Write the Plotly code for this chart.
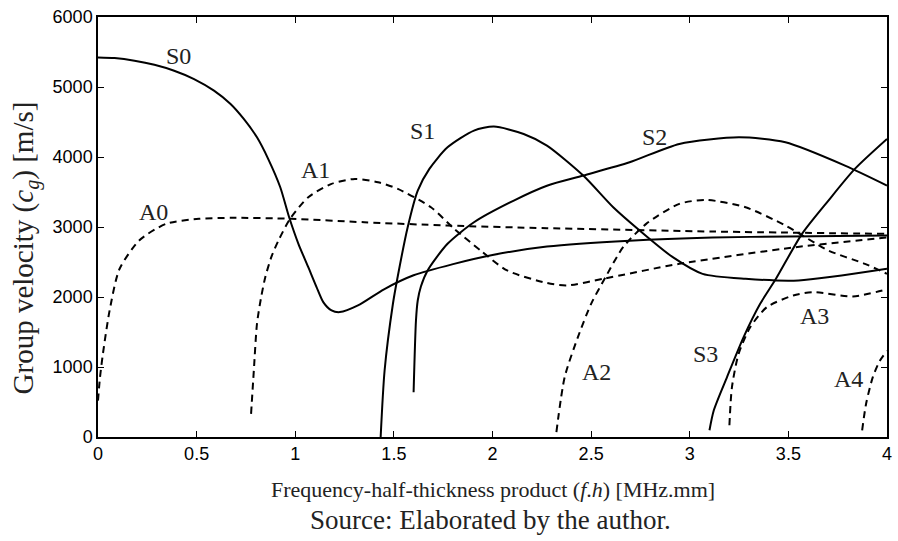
import plotly.graph_objects as go

# ---- data (fh [MHz.mm], group velocity [m/s]) ----
s0_x = [0.0, 0.084, 0.185, 0.286, 0.386, 0.487, 0.588, 0.672, 0.739, 0.806, 0.865, 0.924, 0.969, 1.016, 1.066, 1.108, 1.142, 1.184, 1.226, 1.318, 1.45, 1.6, 1.8, 2.0, 2.276, 2.695, 3.115, 3.5, 4.0]
s0_y = [5423, 5413, 5376, 5318, 5233, 5114, 4948, 4758, 4544, 4281, 3960, 3568, 3139, 2760, 2426, 2141, 1927, 1808, 1784, 1879, 2110, 2310, 2470, 2600, 2720, 2805, 2850, 2865, 2880]

a0_x = [0.0, 0.01, 0.025, 0.059, 0.109, 0.21, 0.345, 0.512, 0.68, 0.98, 1.35, 1.77, 2.276, 3.115, 4.0]
a0_y = [520, 850, 1190, 1810, 2400, 2810, 3045, 3117, 3131, 3117, 3068, 3021, 2983, 2935, 2902]

a1_x = [0.776, 0.79, 0.806, 0.826, 0.848, 0.88, 0.915, 0.974, 1.066, 1.184, 1.302, 1.42, 1.52, 1.688, 1.806, 1.94, 2.074, 2.276, 2.376, 2.561, 2.947, 3.535, 4.0]
a1_y = [330, 950, 1618, 1980, 2283, 2580, 2807, 3117, 3425, 3616, 3687, 3640, 3545, 3282, 2974, 2664, 2379, 2200, 2165, 2260, 2474, 2711, 2850]

s1_x = [1.433, 1.453, 1.495, 1.52, 1.570, 1.621, 1.680, 1.772, 1.906, 2.007, 2.158, 2.276, 2.46, 2.612, 2.746, 2.914, 3.065, 3.283, 3.552, 4.0]
s1_y = [0, 950, 1900, 2300, 2997, 3520, 3830, 4138, 4377, 4434, 4329, 4163, 3735, 3282, 2950, 2569, 2331, 2260, 2236, 2403]

s2_x = [1.6, 1.612, 1.621, 1.637, 1.671, 1.772, 1.906, 2.108, 2.276, 2.46, 2.695, 2.947, 3.249, 3.485, 3.787, 4.0]
s2_y = [640, 1665, 1950, 2150, 2379, 2760, 3068, 3378, 3590, 3735, 3924, 4187, 4281, 4210, 3877, 3592]

a2_x = [2.324, 2.366, 2.433, 2.5, 2.573, 2.662, 2.779, 2.947, 3.082, 3.283, 3.485, 3.703, 3.888, 4.0]
a2_y = [70, 856, 1427, 1903, 2283, 2711, 3045, 3330, 3387, 3282, 3021, 2664, 2474, 2331]

s3_x = [3.1, 3.122, 3.189, 3.273, 3.357, 3.437, 3.569, 3.703, 3.837, 4.0]
s3_y = [96, 381, 856, 1427, 1903, 2260, 2902, 3378, 3830, 4258]

a3_x = [3.201, 3.214, 3.248, 3.307, 3.391, 3.525, 3.626, 3.827, 4.0]
a3_y = [167, 714, 1190, 1570, 1855, 2022, 2069, 2008, 2110]

a4_x = [3.874, 3.894, 3.928, 3.962, 4.0]
a4_y = [96, 476, 856, 1080, 1230]

label_text = ["S0", "A0", "A1", "S1", "S2", "A2", "S3", "A3", "A4"]
label_x = [0.407, 0.28, 1.101, 1.643, 2.82, 2.527, 3.08, 3.63, 3.807]
label_y = [5443, 3220, 3817, 4376, 4291, 924, 1180, 1722, 824]

x_ticks = [0, 0.5, 1, 1.5, 2, 2.5, 3, 3.5, 4]
x_tick_text = ["0", "0.5", "1", "1.5", "2", "2.5", "3", "3.5", "4"]
y_ticks = [0, 1000, 2000, 3000, 4000, 5000, 6000]

SERIF = "Liberation Serif, Times New Roman, Times, serif"
SANS = "Liberation Sans, Arial, Helvetica, sans-serif"

# ---- figure ----
fig = go.Figure()
curves = [
    (s0_x, s0_y, "solid"), (a0_x, a0_y, "dash"), (a1_x, a1_y, "dash"),
    (s1_x, s1_y, "solid"), (s2_x, s2_y, "solid"), (a2_x, a2_y, "dash"),
    (s3_x, s3_y, "solid"), (a3_x, a3_y, "dash"), (a4_x, a4_y, "dash"),
]
for xs, ys, style in curves:
    fig.add_trace(go.Scatter(
        x=xs, y=ys, mode="lines",
        line=dict(color="black", width=2, shape="spline", smoothing=0.7,
                  dash="solid" if style == "solid" else "7px,5px"),
        showlegend=False, hoverinfo="skip",
    ))

for t, x, y in zip(label_text, label_x, label_y):
    fig.add_annotation(x=x, y=y, text=t, showarrow=False,
                       font=dict(family=SERIF, size=24, color="#222"))

fig.add_annotation(xref="paper", yref="paper", x=0.5, y=-0.124, yanchor="middle",
                   text="Frequency-half-thickness product (<i>f</i>.<i>h</i>) [MHz.mm]",
                   showarrow=False, font=dict(family=SERIF, size=22, color="#222"))
fig.add_annotation(xref="paper", yref="paper", x=0.497, y=-0.198, yanchor="middle",
                   text="Source: Elaborated by the author.",
                   showarrow=False, font=dict(family=SERIF, size=27, color="#222"))
fig.add_annotation(xref="paper", yref="paper", x=-0.092, y=0.45, xanchor="center",
                   yanchor="middle", textangle=-90,
                   text="Group velocity (<i>c<sub>g</sub></i>) [m/s]",
                   showarrow=False, font=dict(family=SERIF, size=29, color="#222"))

axis_common = dict(showline=True, linecolor="black", linewidth=1.5, mirror="ticks",
                   ticks="inside", ticklen=6, tickcolor="black", tickwidth=1,
                   showgrid=False, zeroline=False,
                   tickfont=dict(family=SANS, size=18, color="black"))

fig.update_xaxes(range=[0, 4], tickvals=x_ticks, ticktext=x_tick_text, **axis_common)
fig.update_yaxes(range=[0, 6000], tickvals=y_ticks, **axis_common)

fig.update_layout(
    width=898, height=541,
    margin=dict(l=98, r=6, t=17, b=104),
    paper_bgcolor="white", plot_bgcolor="white",
)
fig.write_html("out.html")
